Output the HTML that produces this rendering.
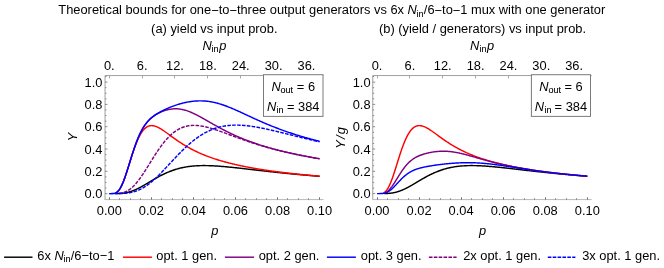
<!DOCTYPE html>
<html><head><meta charset="utf-8"><title>Theoretical bounds</title>
<style>html,body{margin:0;padding:0;background:#fff;}body{width:664px;height:268px;overflow:hidden;font-family:"Liberation Sans",sans-serif;}</style>
</head><body>
<svg width="664" height="268" viewBox="0 0 664 268" style="display:block;will-change:transform">
<rect width="664" height="268" fill="#fff"/>
<g font-family="'Liberation Sans', sans-serif" font-size="12.85" fill="#000">
<text x="331.8" y="14.45" text-anchor="middle">Theoretical bounds for one<tspan dy="0.5">−</tspan><tspan dy="-0.5">to</tspan><tspan dy="0.5">−</tspan><tspan dy="-0.5">three output generators vs 6x </tspan><tspan font-style="italic">N</tspan><tspan font-size="9.0" dx="-0.32" dy="2.3" stroke="#000" stroke-width="0.12">in</tspan><tspan dx="0.32" dy="-2.3">/6<tspan dy="0.5">−</tspan><tspan dy="-0.5">to</tspan><tspan dy="0.5">−</tspan><tspan dy="-0.5">1 mux with one generator</tspan></tspan></text>
<text x="214.3" y="33.4" text-anchor="middle">(a) yield vs input prob.</text>
<text x="482.5" y="33.4" text-anchor="middle">(b) (yield / generators) vs input prob.</text>
<clipPath id="c0"><rect x="105.05" y="75.55" width="218.45" height="124.05"/></clipPath>
<g clip-path="url(#c0)"><path d="M114.87,193.59 L115.14,193.59 L115.40,193.59 L115.67,193.58 L115.93,193.58 L116.20,193.58 L116.46,193.57 L116.72,193.57 L116.99,193.56 L117.25,193.55 L117.52,193.55 L117.78,193.54 L118.05,193.53 L118.31,193.52 L118.57,193.51 L118.84,193.50 L119.10,193.49 L119.37,193.48 L119.63,193.46 L119.90,193.45 L120.16,193.43 L120.43,193.41 L120.69,193.39 L120.95,193.37 L121.22,193.35 L121.48,193.33 L121.75,193.31 L122.01,193.28 L122.28,193.25 L122.54,193.23 L122.81,193.20 L123.07,193.16 L123.33,193.13 L123.60,193.10 L123.86,193.06 L124.13,193.02 L124.39,192.98 L124.66,192.94 L124.92,192.90 L125.18,192.86 L125.45,192.81 L125.71,192.76 L125.98,192.71 L126.24,192.66 L126.51,192.60 L126.77,192.55 L127.04,192.49 L127.30,192.43 L127.56,192.37 L127.83,192.31 L128.09,192.24 L128.36,192.17 L128.62,192.11 L128.89,192.04 L129.15,191.96 L129.42,191.89 L129.68,191.81 L129.94,191.73 L130.21,191.65 L130.47,191.57 L130.74,191.48 L131.00,191.40 L131.27,191.31 L131.53,191.22 L131.79,191.13 L132.06,191.04 L132.32,190.94 L132.59,190.84 L132.85,190.74 L133.12,190.64 L133.38,190.54 L133.65,190.44 L133.91,190.33 L134.17,190.22 L134.44,190.11 L134.70,190.00 L134.97,189.89 L135.23,189.77 L135.50,189.66 L135.76,189.54 L136.03,189.42 L136.29,189.30 L136.55,189.18 L136.82,189.05 L137.08,188.93 L137.35,188.80 L137.61,188.67 L137.88,188.55 L138.14,188.41 L138.40,188.28 L138.67,188.15 L138.93,188.02 L139.20,187.88 L139.46,187.74 L139.73,187.61 L139.99,187.47 L140.26,187.33 L140.52,187.19 L140.78,187.04 L141.05,186.90 L141.31,186.76 L141.58,186.61 L141.84,186.47 L142.11,186.32 L142.37,186.17 L142.63,186.02 L142.90,185.87 L143.16,185.72 L143.43,185.57 L143.69,185.42 L143.96,185.27 L144.22,185.12 L144.49,184.97 L144.75,184.81 L145.01,184.66 L145.28,184.50 L145.54,184.35 L145.81,184.19 L146.07,184.04 L146.34,183.88 L146.60,183.73 L146.87,183.57 L147.13,183.41 L147.39,183.26 L147.66,183.10 L147.92,182.94 L148.19,182.78 L148.45,182.63 L148.72,182.47 L148.98,182.31 L149.24,182.15 L149.51,181.99 L149.77,181.84 L150.04,181.68 L150.30,181.52 L150.57,181.36 L150.83,181.21 L151.10,181.05 L151.36,180.89 L152.06,180.48 L152.77,180.06 L153.47,179.65 L154.18,179.24 L154.88,178.83 L155.58,178.43 L156.29,178.03 L156.99,177.63 L157.70,177.24 L158.40,176.86 L159.10,176.48 L159.81,176.10 L160.51,175.73 L161.22,175.37 L161.92,175.01 L162.62,174.66 L163.33,174.31 L164.03,173.98 L164.73,173.64 L165.44,173.32 L166.14,173.00 L166.85,172.69 L167.55,172.38 L168.25,172.09 L168.96,171.80 L169.66,171.52 L170.37,171.24 L171.07,170.97 L171.77,170.71 L172.48,170.46 L173.18,170.21 L173.89,169.97 L174.59,169.74 L175.29,169.52 L176.00,169.30 L176.70,169.09 L177.41,168.89 L178.11,168.69 L178.81,168.51 L179.52,168.32 L180.22,168.15 L180.93,167.98 L181.63,167.82 L182.33,167.67 L183.04,167.52 L183.74,167.38 L184.44,167.24 L185.15,167.11 L185.85,166.99 L186.56,166.87 L187.26,166.76 L187.96,166.65 L188.67,166.55 L189.37,166.46 L190.08,166.37 L190.78,166.29 L191.48,166.21 L192.19,166.14 L192.89,166.07 L193.60,166.01 L194.30,165.95 L195.00,165.90 L195.71,165.85 L196.41,165.80 L197.12,165.76 L197.82,165.73 L198.52,165.70 L199.23,165.67 L199.93,165.65 L200.64,165.63 L201.34,165.61 L202.04,165.60 L202.75,165.59 L203.45,165.59 L204.15,165.59 L204.86,165.59 L205.56,165.60 L206.27,165.60 L206.97,165.62 L207.67,165.63 L208.38,165.65 L209.08,165.67 L209.79,165.69 L210.49,165.71 L211.19,165.74 L211.90,165.77 L212.60,165.81 L213.31,165.84 L214.01,165.88 L214.71,165.92 L215.42,165.96 L216.12,166.00 L216.83,166.05 L217.53,166.09 L218.23,166.14 L218.94,166.19 L219.64,166.24 L220.35,166.30 L221.05,166.35 L221.75,166.41 L222.46,166.47 L223.16,166.53 L223.87,166.59 L224.57,166.65 L225.27,166.71 L225.98,166.77 L226.68,166.84 L227.38,166.91 L228.09,166.97 L228.79,167.04 L229.50,167.11 L230.20,167.18 L230.90,167.25 L231.61,167.32 L232.31,167.40 L233.02,167.47 L233.72,167.54 L234.42,167.62 L235.13,167.69 L235.83,167.77 L236.54,167.84 L237.24,167.92 L237.94,168.00 L238.65,168.08 L239.35,168.15 L240.06,168.23 L240.76,168.31 L241.46,168.39 L242.17,168.47 L242.87,168.55 L243.58,168.63 L244.28,168.71 L244.98,168.79 L245.69,168.87 L246.39,168.95 L247.09,169.03 L247.80,169.11 L248.50,169.19 L249.21,169.27 L249.91,169.35 L250.61,169.43 L251.32,169.52 L252.02,169.60 L252.73,169.68 L253.43,169.76 L254.13,169.84 L254.84,169.92 L255.54,170.00 L256.25,170.08 L256.95,170.16 L257.65,170.24 L258.36,170.32 L259.06,170.41 L259.77,170.49 L260.47,170.57 L261.17,170.65 L261.88,170.73 L262.58,170.81 L263.29,170.88 L263.99,170.96 L264.69,171.04 L265.40,171.12 L266.10,171.20 L266.81,171.28 L267.51,171.36 L268.21,171.44 L268.92,171.51 L269.62,171.59 L270.32,171.67 L271.03,171.75 L271.73,171.82 L272.44,171.90 L273.14,171.97 L273.84,172.05 L274.55,172.13 L275.25,172.20 L275.96,172.28 L276.66,172.35 L277.36,172.43 L278.07,172.50 L278.77,172.57 L279.48,172.65 L280.18,172.72 L280.88,172.79 L281.59,172.87 L282.29,172.94 L283.00,173.01 L283.70,173.08 L284.40,173.15 L285.11,173.22 L285.81,173.29 L286.52,173.37 L287.22,173.44 L287.92,173.50 L288.63,173.57 L289.33,173.64 L290.03,173.71 L290.74,173.78 L291.44,173.85 L292.15,173.92 L292.85,173.98 L293.55,174.05 L294.26,174.12 L294.96,174.18 L295.67,174.25 L296.37,174.32 L297.07,174.38 L297.78,174.45 L298.48,174.51 L299.19,174.57 L299.89,174.64 L300.59,174.70 L301.30,174.77 L302.00,174.83 L302.71,174.89 L303.41,174.95 L304.11,175.02 L304.82,175.08 L305.52,175.14 L306.23,175.20 L306.93,175.26 L307.63,175.32 L308.34,175.38 L309.04,175.44 L309.74,175.50 L310.45,175.56 L311.15,175.62 L311.86,175.68 L312.56,175.74 L313.26,175.79 L313.97,175.85 L314.67,175.91 L315.38,175.97 L316.08,176.02 L316.78,176.08 L317.49,176.13 L318.19,176.19 L318.90,176.25 L319.60,176.30" fill="none" stroke="#000000" stroke-width="1.45" stroke-linejoin="round"/><path d="M116.46,192.45 L116.72,192.28 L116.99,192.09 L117.25,191.88 L117.52,191.65 L117.78,191.41 L118.05,191.14 L118.31,190.86 L118.57,190.56 L118.84,190.23 L119.10,189.89 L119.37,189.52 L119.63,189.14 L119.90,188.73 L120.16,188.31 L120.43,187.86 L120.69,187.39 L120.95,186.90 L121.22,186.40 L121.48,185.87 L121.75,185.32 L122.01,184.76 L122.28,184.17 L122.54,183.57 L122.81,182.95 L123.07,182.31 L123.33,181.66 L123.60,180.98 L123.86,180.30 L124.13,179.60 L124.39,178.88 L124.66,178.15 L124.92,177.41 L125.18,176.65 L125.45,175.89 L125.71,175.11 L125.98,174.32 L126.24,173.53 L126.51,172.72 L126.77,171.91 L127.04,171.09 L127.30,170.26 L127.56,169.43 L127.83,168.60 L128.09,167.75 L128.36,166.91 L128.62,166.06 L128.89,165.22 L129.15,164.37 L129.42,163.52 L129.68,162.67 L129.94,161.82 L130.21,160.97 L130.47,160.13 L130.74,159.29 L131.00,158.45 L131.27,157.61 L131.53,156.78 L131.79,155.96 L132.06,155.14 L132.32,154.33 L132.59,153.52 L132.85,152.72 L133.12,151.93 L133.38,151.15 L133.65,150.38 L133.91,149.61 L134.17,148.86 L134.44,148.11 L134.70,147.37 L134.97,146.65 L135.23,145.93 L135.50,145.23 L135.76,144.54 L136.03,143.86 L136.29,143.19 L136.55,142.53 L136.82,141.89 L137.08,141.26 L137.35,140.64 L137.61,140.03 L137.88,139.43 L138.14,138.85 L138.40,138.29 L138.67,137.73 L138.93,137.19 L139.20,136.66 L139.46,136.15 L139.73,135.64 L139.99,135.15 L140.26,134.68 L140.52,134.22 L140.78,133.77 L141.05,133.34 L141.31,132.91 L141.58,132.50 L141.84,132.11 L142.11,131.73 L142.37,131.36 L142.63,131.00 L142.90,130.66 L143.16,130.33 L143.43,130.01 L143.69,129.70 L143.96,129.41 L144.22,129.13 L144.49,128.86 L144.75,128.61 L145.01,128.36 L145.28,128.13 L145.54,127.91 L145.81,127.70 L146.07,127.50 L146.34,127.31 L146.60,127.13 L146.87,126.97 L147.13,126.81 L147.39,126.67 L147.66,126.53 L147.92,126.41 L148.19,126.29 L148.45,126.19 L148.72,126.09 L148.98,126.00 L149.24,125.93 L149.51,125.86 L149.77,125.80 L150.04,125.75 L150.30,125.71 L150.57,125.67 L150.83,125.65 L151.10,125.63 L151.36,125.62 L152.06,125.62 L152.77,125.68 L153.47,125.78 L154.18,125.93 L154.88,126.12 L155.58,126.34 L156.29,126.60 L156.99,126.89 L157.70,127.21 L158.40,127.56 L159.10,127.93 L159.81,128.32 L160.51,128.73 L161.22,129.15 L161.92,129.60 L162.62,130.05 L163.33,130.52 L164.03,131.00 L164.73,131.49 L165.44,131.98 L166.14,132.48 L166.85,132.99 L167.55,133.50 L168.25,134.01 L168.96,134.52 L169.66,135.03 L170.37,135.55 L171.07,136.06 L171.77,136.58 L172.48,137.09 L173.18,137.60 L173.89,138.10 L174.59,138.60 L175.29,139.10 L176.00,139.60 L176.70,140.09 L177.41,140.57 L178.11,141.05 L178.81,141.53 L179.52,142.00 L180.22,142.46 L180.93,142.92 L181.63,143.38 L182.33,143.83 L183.04,144.27 L183.74,144.70 L184.44,145.14 L185.15,145.56 L185.85,145.98 L186.56,146.39 L187.26,146.80 L187.96,147.20 L188.67,147.60 L189.37,147.99 L190.08,148.37 L190.78,148.75 L191.48,149.13 L192.19,149.50 L192.89,149.86 L193.60,150.22 L194.30,150.57 L195.00,150.91 L195.71,151.26 L196.41,151.59 L197.12,151.93 L197.82,152.25 L198.52,152.58 L199.23,152.89 L199.93,153.21 L200.64,153.51 L201.34,153.82 L202.04,154.12 L202.75,154.41 L203.45,154.70 L204.15,154.99 L204.86,155.27 L205.56,155.55 L206.27,155.83 L206.97,156.10 L207.67,156.37 L208.38,156.63 L209.08,156.89 L209.79,157.15 L210.49,157.40 L211.19,157.65 L211.90,157.89 L212.60,158.14 L213.31,158.38 L214.01,158.61 L214.71,158.85 L215.42,159.08 L216.12,159.30 L216.83,159.53 L217.53,159.75 L218.23,159.97 L218.94,160.18 L219.64,160.40 L220.35,160.61 L221.05,160.82 L221.75,161.02 L222.46,161.22 L223.16,161.42 L223.87,161.62 L224.57,161.82 L225.27,162.01 L225.98,162.20 L226.68,162.39 L227.38,162.57 L228.09,162.76 L228.79,162.94 L229.50,163.12 L230.20,163.30 L230.90,163.47 L231.61,163.64 L232.31,163.82 L233.02,163.99 L233.72,164.15 L234.42,164.32 L235.13,164.48 L235.83,164.64 L236.54,164.80 L237.24,164.96 L237.94,165.12 L238.65,165.27 L239.35,165.43 L240.06,165.58 L240.76,165.73 L241.46,165.88 L242.17,166.03 L242.87,166.17 L243.58,166.31 L244.28,166.46 L244.98,166.60 L245.69,166.74 L246.39,166.87 L247.09,167.01 L247.80,167.15 L248.50,167.28 L249.21,167.41 L249.91,167.54 L250.61,167.67 L251.32,167.80 L252.02,167.93 L252.73,168.06 L253.43,168.18 L254.13,168.30 L254.84,168.43 L255.54,168.55 L256.25,168.67 L256.95,168.79 L257.65,168.90 L258.36,169.02 L259.06,169.14 L259.77,169.25 L260.47,169.36 L261.17,169.48 L261.88,169.59 L262.58,169.70 L263.29,169.81 L263.99,169.91 L264.69,170.02 L265.40,170.13 L266.10,170.23 L266.81,170.34 L267.51,170.44 L268.21,170.54 L268.92,170.65 L269.62,170.75 L270.32,170.85 L271.03,170.95 L271.73,171.04 L272.44,171.14 L273.14,171.24 L273.84,171.33 L274.55,171.43 L275.25,171.52 L275.96,171.62 L276.66,171.71 L277.36,171.80 L278.07,171.89 L278.77,171.98 L279.48,172.07 L280.18,172.16 L280.88,172.25 L281.59,172.33 L282.29,172.42 L283.00,172.51 L283.70,172.59 L284.40,172.68 L285.11,172.76 L285.81,172.84 L286.52,172.93 L287.22,173.01 L287.92,173.09 L288.63,173.17 L289.33,173.25 L290.03,173.33 L290.74,173.41 L291.44,173.48 L292.15,173.56 L292.85,173.64 L293.55,173.72 L294.26,173.79 L294.96,173.87 L295.67,173.94 L296.37,174.01 L297.07,174.09 L297.78,174.16 L298.48,174.23 L299.19,174.31 L299.89,174.38 L300.59,174.45 L301.30,174.52 L302.00,174.59 L302.71,174.66 L303.41,174.72 L304.11,174.79 L304.82,174.86 L305.52,174.93 L306.23,174.99 L306.93,175.06 L307.63,175.13 L308.34,175.19 L309.04,175.26 L309.74,175.32 L310.45,175.39 L311.15,175.45 L311.86,175.51 L312.56,175.57 L313.26,175.64 L313.97,175.70 L314.67,175.76 L315.38,175.82 L316.08,175.88 L316.78,175.94 L317.49,176.00 L318.19,176.06 L318.90,176.12 L319.60,176.18" fill="none" stroke="#ff0000" stroke-width="1.45" stroke-linejoin="round"/><path d="M116.46,192.45 L116.72,192.28 L116.99,192.09 L117.25,191.88 L117.52,191.65 L117.78,191.41 L118.05,191.14 L118.31,190.86 L118.57,190.56 L118.84,190.23 L119.10,189.89 L119.37,189.52 L119.63,189.14 L119.90,188.73 L120.16,188.31 L120.43,187.86 L120.69,187.39 L120.95,186.90 L121.22,186.40 L121.48,185.87 L121.75,185.32 L122.01,184.76 L122.28,184.17 L122.54,183.57 L122.81,182.95 L123.07,182.31 L123.33,181.65 L123.60,180.98 L123.86,180.29 L124.13,179.59 L124.39,178.87 L124.66,178.14 L124.92,177.40 L125.18,176.64 L125.45,175.87 L125.71,175.10 L125.98,174.31 L126.24,173.51 L126.51,172.70 L126.77,171.89 L127.04,171.06 L127.30,170.23 L127.56,169.40 L127.83,168.56 L128.09,167.71 L128.36,166.86 L128.62,166.01 L128.89,165.16 L129.15,164.30 L129.42,163.44 L129.68,162.59 L129.94,161.73 L130.21,160.87 L130.47,160.02 L130.74,159.17 L131.00,158.32 L131.27,157.47 L131.53,156.62 L131.79,155.79 L132.06,154.95 L132.32,154.12 L132.59,153.30 L132.85,152.48 L133.12,151.67 L133.38,150.87 L133.65,150.07 L133.91,149.28 L134.17,148.50 L134.44,147.73 L134.70,146.96 L134.97,146.21 L135.23,145.46 L135.50,144.72 L135.76,143.99 L136.03,143.27 L136.29,142.56 L136.55,141.87 L136.82,141.18 L137.08,140.50 L137.35,139.83 L137.61,139.17 L137.88,138.53 L138.14,137.89 L138.40,137.26 L138.67,136.65 L138.93,136.04 L139.20,135.45 L139.46,134.87 L139.73,134.29 L139.99,133.73 L140.26,133.18 L140.52,132.64 L140.78,132.11 L141.05,131.59 L141.31,131.08 L141.58,130.58 L141.84,130.09 L142.11,129.61 L142.37,129.13 L142.63,128.67 L142.90,128.22 L143.16,127.78 L143.43,127.35 L143.69,126.93 L143.96,126.51 L144.22,126.11 L144.49,125.71 L144.75,125.32 L145.01,124.94 L145.28,124.57 L145.54,124.21 L145.81,123.85 L146.07,123.51 L146.34,123.17 L146.60,122.84 L146.87,122.51 L147.13,122.19 L147.39,121.88 L147.66,121.58 L147.92,121.28 L148.19,120.99 L148.45,120.70 L148.72,120.42 L148.98,120.15 L149.24,119.89 L149.51,119.62 L149.77,119.37 L150.04,119.12 L150.30,118.87 L150.57,118.63 L150.83,118.40 L151.10,118.17 L151.36,117.94 L152.06,117.36 L152.77,116.82 L153.47,116.29 L154.18,115.80 L154.88,115.33 L155.58,114.88 L156.29,114.45 L156.99,114.04 L157.70,113.65 L158.40,113.28 L159.10,112.92 L159.81,112.58 L160.51,112.26 L161.22,111.95 L161.92,111.65 L162.62,111.37 L163.33,111.10 L164.03,110.85 L164.73,110.61 L165.44,110.39 L166.14,110.18 L166.85,109.98 L167.55,109.80 L168.25,109.63 L168.96,109.48 L169.66,109.34 L170.37,109.21 L171.07,109.11 L171.77,109.01 L172.48,108.94 L173.18,108.87 L173.89,108.83 L174.59,108.80 L175.29,108.79 L176.00,108.79 L176.70,108.81 L177.41,108.84 L178.11,108.89 L178.81,108.96 L179.52,109.04 L180.22,109.13 L180.93,109.25 L181.63,109.37 L182.33,109.51 L183.04,109.67 L183.74,109.84 L184.44,110.02 L185.15,110.22 L185.85,110.43 L186.56,110.65 L187.26,110.89 L187.96,111.13 L188.67,111.39 L189.37,111.66 L190.08,111.94 L190.78,112.23 L191.48,112.53 L192.19,112.84 L192.89,113.15 L193.60,113.48 L194.30,113.81 L195.00,114.15 L195.71,114.50 L196.41,114.85 L197.12,115.21 L197.82,115.58 L198.52,115.95 L199.23,116.32 L199.93,116.70 L200.64,117.09 L201.34,117.47 L202.04,117.86 L202.75,118.25 L203.45,118.65 L204.15,119.05 L204.86,119.44 L205.56,119.84 L206.27,120.25 L206.97,120.65 L207.67,121.05 L208.38,121.45 L209.08,121.86 L209.79,122.26 L210.49,122.66 L211.19,123.06 L211.90,123.46 L212.60,123.86 L213.31,124.26 L214.01,124.66 L214.71,125.06 L215.42,125.45 L216.12,125.84 L216.83,126.23 L217.53,126.62 L218.23,127.01 L218.94,127.39 L219.64,127.78 L220.35,128.15 L221.05,128.53 L221.75,128.91 L222.46,129.28 L223.16,129.65 L223.87,130.01 L224.57,130.38 L225.27,130.74 L225.98,131.09 L226.68,131.45 L227.38,131.80 L228.09,132.15 L228.79,132.49 L229.50,132.84 L230.20,133.18 L230.90,133.51 L231.61,133.85 L232.31,134.18 L233.02,134.51 L233.72,134.83 L234.42,135.15 L235.13,135.47 L235.83,135.79 L236.54,136.10 L237.24,136.41 L237.94,136.72 L238.65,137.02 L239.35,137.32 L240.06,137.62 L240.76,137.91 L241.46,138.21 L242.17,138.50 L242.87,138.78 L243.58,139.07 L244.28,139.35 L244.98,139.63 L245.69,139.90 L246.39,140.18 L247.09,140.45 L247.80,140.72 L248.50,140.98 L249.21,141.24 L249.91,141.51 L250.61,141.76 L251.32,142.02 L252.02,142.27 L252.73,142.52 L253.43,142.77 L254.13,143.02 L254.84,143.26 L255.54,143.50 L256.25,143.74 L256.95,143.98 L257.65,144.21 L258.36,144.45 L259.06,144.68 L259.77,144.91 L260.47,145.13 L261.17,145.36 L261.88,145.58 L262.58,145.80 L263.29,146.02 L263.99,146.23 L264.69,146.45 L265.40,146.66 L266.10,146.87 L266.81,147.08 L267.51,147.29 L268.21,147.49 L268.92,147.69 L269.62,147.90 L270.32,148.10 L271.03,148.29 L271.73,148.49 L272.44,148.68 L273.14,148.88 L273.84,149.07 L274.55,149.26 L275.25,149.45 L275.96,149.63 L276.66,149.82 L277.36,150.00 L278.07,150.18 L278.77,150.36 L279.48,150.54 L280.18,150.72 L280.88,150.89 L281.59,151.07 L282.29,151.24 L283.00,151.41 L283.70,151.58 L284.40,151.75 L285.11,151.92 L285.81,152.09 L286.52,152.25 L287.22,152.41 L287.92,152.58 L288.63,152.74 L289.33,152.90 L290.03,153.06 L290.74,153.21 L291.44,153.37 L292.15,153.52 L292.85,153.68 L293.55,153.83 L294.26,153.98 L294.96,154.13 L295.67,154.28 L296.37,154.43 L297.07,154.58 L297.78,154.72 L298.48,154.87 L299.19,155.01 L299.89,155.15 L300.59,155.29 L301.30,155.43 L302.00,155.57 L302.71,155.71 L303.41,155.85 L304.11,155.99 L304.82,156.12 L305.52,156.26 L306.23,156.39 L306.93,156.52 L307.63,156.65 L308.34,156.78 L309.04,156.91 L309.74,157.04 L310.45,157.17 L311.15,157.30 L311.86,157.42 L312.56,157.55 L313.26,157.67 L313.97,157.80 L314.67,157.92 L315.38,158.04 L316.08,158.16 L316.78,158.28 L317.49,158.40 L318.19,158.52 L318.90,158.64 L319.60,158.76" fill="none" stroke="#800080" stroke-width="1.45" stroke-linejoin="round"/><path d="M109.32,193.60 L109.59,193.60 L109.85,193.60 L110.11,193.60 L110.38,193.60 L110.64,193.60 L110.91,193.60 L111.17,193.60 L111.44,193.59 L111.70,193.59 L111.96,193.58 L112.23,193.58 L112.49,193.56 L112.76,193.55 L113.02,193.53 L113.29,193.50 L113.55,193.47 L113.82,193.43 L114.08,193.38 L114.34,193.33 L114.61,193.26 L114.87,193.18 L115.14,193.10 L115.40,193.00 L115.67,192.88 L115.93,192.75 L116.20,192.61 L116.46,192.45 L116.72,192.28 L116.99,192.09 L117.25,191.88 L117.52,191.65 L117.78,191.41 L118.05,191.14 L118.31,190.86 L118.57,190.56 L118.84,190.23 L119.10,189.89 L119.37,189.52 L119.63,189.14 L119.90,188.73 L120.16,188.31 L120.43,187.86 L120.69,187.39 L120.95,186.90 L121.22,186.40 L121.48,185.87 L121.75,185.32 L122.01,184.76 L122.28,184.17 L122.54,183.57 L122.81,182.95 L123.07,182.31 L123.33,181.65 L123.60,180.98 L123.86,180.29 L124.13,179.59 L124.39,178.87 L124.66,178.14 L124.92,177.40 L125.18,176.64 L125.45,175.87 L125.71,175.10 L125.98,174.31 L126.24,173.51 L126.51,172.70 L126.77,171.89 L127.04,171.06 L127.30,170.23 L127.56,169.40 L127.83,168.56 L128.09,167.71 L128.36,166.86 L128.62,166.01 L128.89,165.16 L129.15,164.30 L129.42,163.44 L129.68,162.59 L129.94,161.73 L130.21,160.87 L130.47,160.02 L130.74,159.17 L131.00,158.32 L131.27,157.47 L131.53,156.62 L131.79,155.79 L132.06,154.95 L132.32,154.12 L132.59,153.30 L132.85,152.48 L133.12,151.67 L133.38,150.87 L133.65,150.07 L133.91,149.28 L134.17,148.50 L134.44,147.73 L134.70,146.96 L134.97,146.20 L135.23,145.46 L135.50,144.72 L135.76,143.99 L136.03,143.27 L136.29,142.56 L136.55,141.87 L136.82,141.18 L137.08,140.50 L137.35,139.83 L137.61,139.17 L137.88,138.53 L138.14,137.89 L138.40,137.26 L138.67,136.65 L138.93,136.04 L139.20,135.45 L139.46,134.86 L139.73,134.29 L139.99,133.73 L140.26,133.18 L140.52,132.63 L140.78,132.10 L141.05,131.58 L141.31,131.07 L141.58,130.57 L141.84,130.08 L142.11,129.60 L142.37,129.13 L142.63,128.67 L142.90,128.22 L143.16,127.77 L143.43,127.34 L143.69,126.92 L143.96,126.50 L144.22,126.10 L144.49,125.70 L144.75,125.31 L145.01,124.93 L145.28,124.56 L145.54,124.19 L145.81,123.84 L146.07,123.49 L146.34,123.15 L146.60,122.81 L146.87,122.49 L147.13,122.17 L147.39,121.85 L147.66,121.55 L147.92,121.25 L148.19,120.95 L148.45,120.67 L148.72,120.38 L148.98,120.11 L149.24,119.84 L149.51,119.57 L149.77,119.32 L150.04,119.06 L150.30,118.81 L150.57,118.57 L150.83,118.33 L151.10,118.09 L151.36,117.86 L152.06,117.27 L152.77,116.71 L153.47,116.17 L154.18,115.65 L154.88,115.16 L155.58,114.68 L156.29,114.22 L156.99,113.78 L157.70,113.35 L158.40,112.94 L159.10,112.53 L159.81,112.14 L160.51,111.76 L161.22,111.39 L161.92,111.02 L162.62,110.67 L163.33,110.32 L164.03,109.98 L164.73,109.64 L165.44,109.32 L166.14,108.99 L166.85,108.68 L167.55,108.37 L168.25,108.07 L168.96,107.77 L169.66,107.48 L170.37,107.19 L171.07,106.91 L171.77,106.64 L172.48,106.37 L173.18,106.11 L173.89,105.85 L174.59,105.60 L175.29,105.35 L176.00,105.11 L176.70,104.88 L177.41,104.66 L178.11,104.43 L178.81,104.22 L179.52,104.01 L180.22,103.81 L180.93,103.61 L181.63,103.43 L182.33,103.24 L183.04,103.07 L183.74,102.90 L184.44,102.73 L185.15,102.58 L185.85,102.42 L186.56,102.28 L187.26,102.14 L187.96,102.01 L188.67,101.89 L189.37,101.77 L190.08,101.66 L190.78,101.56 L191.48,101.46 L192.19,101.37 L192.89,101.29 L193.60,101.21 L194.30,101.14 L195.00,101.08 L195.71,101.03 L196.41,100.98 L197.12,100.95 L197.82,100.92 L198.52,100.89 L199.23,100.88 L199.93,100.87 L200.64,100.87 L201.34,100.88 L202.04,100.89 L202.75,100.92 L203.45,100.95 L204.15,100.99 L204.86,101.04 L205.56,101.09 L206.27,101.16 L206.97,101.23 L207.67,101.31 L208.38,101.40 L209.08,101.49 L209.79,101.60 L210.49,101.71 L211.19,101.83 L211.90,101.96 L212.60,102.09 L213.31,102.24 L214.01,102.39 L214.71,102.55 L215.42,102.71 L216.12,102.89 L216.83,103.07 L217.53,103.25 L218.23,103.45 L218.94,103.65 L219.64,103.85 L220.35,104.07 L221.05,104.29 L221.75,104.51 L222.46,104.75 L223.16,104.99 L223.87,105.23 L224.57,105.48 L225.27,105.73 L225.98,105.99 L226.68,106.26 L227.38,106.52 L228.09,106.80 L228.79,107.08 L229.50,107.36 L230.20,107.64 L230.90,107.93 L231.61,108.23 L232.31,108.52 L233.02,108.82 L233.72,109.13 L234.42,109.43 L235.13,109.74 L235.83,110.05 L236.54,110.36 L237.24,110.68 L237.94,110.99 L238.65,111.31 L239.35,111.63 L240.06,111.96 L240.76,112.28 L241.46,112.60 L242.17,112.93 L242.87,113.25 L243.58,113.58 L244.28,113.91 L244.98,114.23 L245.69,114.56 L246.39,114.89 L247.09,115.22 L247.80,115.55 L248.50,115.87 L249.21,116.20 L249.91,116.53 L250.61,116.86 L251.32,117.18 L252.02,117.51 L252.73,117.83 L253.43,118.15 L254.13,118.48 L254.84,118.80 L255.54,119.12 L256.25,119.44 L256.95,119.76 L257.65,120.07 L258.36,120.39 L259.06,120.70 L259.77,121.02 L260.47,121.33 L261.17,121.64 L261.88,121.95 L262.58,122.25 L263.29,122.56 L263.99,122.86 L264.69,123.16 L265.40,123.46 L266.10,123.76 L266.81,124.06 L267.51,124.35 L268.21,124.65 L268.92,124.94 L269.62,125.23 L270.32,125.51 L271.03,125.80 L271.73,126.08 L272.44,126.37 L273.14,126.65 L273.84,126.92 L274.55,127.20 L275.25,127.47 L275.96,127.75 L276.66,128.02 L277.36,128.29 L278.07,128.55 L278.77,128.82 L279.48,129.08 L280.18,129.34 L280.88,129.60 L281.59,129.86 L282.29,130.12 L283.00,130.37 L283.70,130.62 L284.40,130.87 L285.11,131.12 L285.81,131.37 L286.52,131.61 L287.22,131.85 L287.92,132.09 L288.63,132.33 L289.33,132.57 L290.03,132.81 L290.74,133.04 L291.44,133.27 L292.15,133.51 L292.85,133.73 L293.55,133.96 L294.26,134.19 L294.96,134.41 L295.67,134.63 L296.37,134.86 L297.07,135.08 L297.78,135.29 L298.48,135.51 L299.19,135.72 L299.89,135.94 L300.59,136.15 L301.30,136.36 L302.00,136.57 L302.71,136.77 L303.41,136.98 L304.11,137.18 L304.82,137.39 L305.52,137.59 L306.23,137.79 L306.93,137.99 L307.63,138.18 L308.34,138.38 L309.04,138.57 L309.74,138.77 L310.45,138.96 L311.15,139.15 L311.86,139.34 L312.56,139.53 L313.26,139.71 L313.97,139.90 L314.67,140.08 L315.38,140.26 L316.08,140.45 L316.78,140.63 L317.49,140.81 L318.19,140.98 L318.90,141.16 L319.60,141.34" fill="none" stroke="#0000ff" stroke-width="1.45" stroke-linejoin="round"/><path d="M119.37,193.34 L119.63,193.31 L119.90,193.27 L120.16,193.24 L120.43,193.20 L120.69,193.16 L120.95,193.11 L121.22,193.07 L121.48,193.02 L121.75,192.96 L122.01,192.90 L122.28,192.84 L122.54,192.78 L122.81,192.71 L123.07,192.64 L123.33,192.57 L123.60,192.49 L123.86,192.40 L124.13,192.32 L124.39,192.23 L124.66,192.13 L124.92,192.03 L125.18,191.93 L125.45,191.82 L125.71,191.71 L125.98,191.59 L126.24,191.46 L126.51,191.34 L126.77,191.21 L127.04,191.07 L127.30,190.93 L127.56,190.78 L127.83,190.63 L128.09,190.47 L128.36,190.31 L128.62,190.14 L128.89,189.97 L129.15,189.80 L129.42,189.61 L129.68,189.43 L129.94,189.24 L130.21,189.04 L130.47,188.84 L130.74,188.63 L131.00,188.42 L131.27,188.20 L131.53,187.98 L131.79,187.75 L132.06,187.51 L132.32,187.28 L132.59,187.03 L132.85,186.78 L133.12,186.53 L133.38,186.27 L133.65,186.01 L133.91,185.74 L134.17,185.47 L134.44,185.19 L134.70,184.91 L134.97,184.62 L135.23,184.33 L135.50,184.03 L135.76,183.73 L136.03,183.43 L136.29,183.12 L136.55,182.80 L136.82,182.48 L137.08,182.16 L137.35,181.83 L137.61,181.50 L137.88,181.17 L138.14,180.83 L138.40,180.48 L138.67,180.14 L138.93,179.79 L139.20,179.43 L139.46,179.08 L139.73,178.71 L139.99,178.35 L140.26,177.98 L140.52,177.61 L140.78,177.24 L141.05,176.86 L141.31,176.48 L141.58,176.09 L141.84,175.71 L142.11,175.32 L142.37,174.93 L142.63,174.53 L142.90,174.14 L143.16,173.74 L143.43,173.34 L143.69,172.94 L143.96,172.53 L144.22,172.12 L144.49,171.71 L144.75,171.30 L145.01,170.89 L145.28,170.48 L145.54,170.06 L145.81,169.65 L146.07,169.23 L146.34,168.81 L146.60,168.39 L146.87,167.97 L147.13,167.54 L147.39,167.12 L147.66,166.70 L147.92,166.27 L148.19,165.85 L148.45,165.42 L148.72,165.00 L148.98,164.57 L149.24,164.15 L149.51,163.72 L149.77,163.29 L150.04,162.87 L150.30,162.44 L150.57,162.01 L150.83,161.59 L151.10,161.16 L151.36,160.74 L152.06,159.61 L152.77,158.49 L153.47,157.37 L154.18,156.26 L154.88,155.17 L155.58,154.08 L156.29,153.01 L156.99,151.94 L157.70,150.90 L158.40,149.86 L159.10,148.85 L159.81,147.85 L160.51,146.87 L161.22,145.91 L161.92,144.96 L162.62,144.04 L163.33,143.14 L164.03,142.26 L164.73,141.40 L165.44,140.57 L166.14,139.75 L166.85,138.96 L167.55,138.19 L168.25,137.45 L168.96,136.73 L169.66,136.03 L170.37,135.36 L171.07,134.71 L171.77,134.08 L172.48,133.48 L173.18,132.90 L173.89,132.35 L174.59,131.82 L175.29,131.31 L176.00,130.83 L176.70,130.37 L177.41,129.93 L178.11,129.52 L178.81,129.12 L179.52,128.75 L180.22,128.40 L180.93,128.07 L181.63,127.77 L182.33,127.48 L183.04,127.21 L183.74,126.97 L184.44,126.74 L185.15,126.53 L185.85,126.34 L186.56,126.17 L187.26,126.02 L187.96,125.88 L188.67,125.76 L189.37,125.66 L190.08,125.58 L190.78,125.50 L191.48,125.45 L192.19,125.41 L192.89,125.38 L193.60,125.37 L194.30,125.37 L195.00,125.38 L195.71,125.41 L196.41,125.44 L197.12,125.49 L197.82,125.56 L198.52,125.63 L199.23,125.71 L199.93,125.80 L200.64,125.91 L201.34,126.02 L202.04,126.14 L202.75,126.27 L203.45,126.40 L204.15,126.55 L204.86,126.70 L205.56,126.86 L206.27,127.03 L206.97,127.20 L207.67,127.39 L208.38,127.57 L209.08,127.76 L209.79,127.96 L210.49,128.16 L211.19,128.37 L211.90,128.58 L212.60,128.80 L213.31,129.02 L214.01,129.24 L214.71,129.47 L215.42,129.70 L216.12,129.93 L216.83,130.17 L217.53,130.41 L218.23,130.65 L218.94,130.89 L219.64,131.14 L220.35,131.39 L221.05,131.64 L221.75,131.89 L222.46,132.14 L223.16,132.40 L223.87,132.65 L224.57,132.91 L225.27,133.17 L225.98,133.43 L226.68,133.69 L227.38,133.94 L228.09,134.20 L228.79,134.46 L229.50,134.72 L230.20,134.99 L230.90,135.25 L231.61,135.51 L232.31,135.77 L233.02,136.02 L233.72,136.28 L234.42,136.54 L235.13,136.80 L235.83,137.06 L236.54,137.32 L237.24,137.57 L237.94,137.83 L238.65,138.08 L239.35,138.34 L240.06,138.59 L240.76,138.84 L241.46,139.09 L242.17,139.34 L242.87,139.59 L243.58,139.84 L244.28,140.08 L244.98,140.33 L245.69,140.57 L246.39,140.81 L247.09,141.06 L247.80,141.30 L248.50,141.53 L249.21,141.77 L249.91,142.01 L250.61,142.24 L251.32,142.47 L252.02,142.71 L252.73,142.94 L253.43,143.17 L254.13,143.39 L254.84,143.62 L255.54,143.84 L256.25,144.07 L256.95,144.29 L257.65,144.51 L258.36,144.73 L259.06,144.94 L259.77,145.16 L260.47,145.37 L261.17,145.58 L261.88,145.80 L262.58,146.00 L263.29,146.21 L263.99,146.42 L264.69,146.62 L265.40,146.83 L266.10,147.03 L266.81,147.23 L267.51,147.43 L268.21,147.63 L268.92,147.82 L269.62,148.02 L270.32,148.21 L271.03,148.40 L271.73,148.60 L272.44,148.78 L273.14,148.97 L273.84,149.16 L274.55,149.34 L275.25,149.53 L275.96,149.71 L276.66,149.89 L277.36,150.07 L278.07,150.25 L278.77,150.43 L279.48,150.60 L280.18,150.78 L280.88,150.95 L281.59,151.12 L282.29,151.29 L283.00,151.46 L283.70,151.63 L284.40,151.79 L285.11,151.96 L285.81,152.12 L286.52,152.29 L287.22,152.45 L287.92,152.61 L288.63,152.77 L289.33,152.93 L290.03,153.08 L290.74,153.24 L291.44,153.39 L292.15,153.55 L292.85,153.70 L293.55,153.85 L294.26,154.00 L294.96,154.15 L295.67,154.30 L296.37,154.45 L297.07,154.59 L297.78,154.74 L298.48,154.88 L299.19,155.02 L299.89,155.17 L300.59,155.31 L301.30,155.45 L302.00,155.58 L302.71,155.72 L303.41,155.86 L304.11,156.00 L304.82,156.13 L305.52,156.26 L306.23,156.40 L306.93,156.53 L307.63,156.66 L308.34,156.79 L309.04,156.92 L309.74,157.05 L310.45,157.18 L311.15,157.30 L311.86,157.43 L312.56,157.55 L313.26,157.68 L313.97,157.80 L314.67,157.92 L315.38,158.05 L316.08,158.17 L316.78,158.29 L317.49,158.41 L318.19,158.52 L318.90,158.64 L319.60,158.76" fill="none" stroke="#800080" stroke-width="1.45" stroke-linejoin="round" stroke-dasharray="3.6,1.28" stroke-dashoffset="0.30"/><path d="M109.32,193.60 L109.59,193.60 L109.85,193.60 L110.11,193.60 L110.38,193.60 L110.64,193.60 L110.91,193.60 L111.17,193.60 L111.44,193.60 L111.70,193.60 L111.96,193.60 L112.23,193.60 L112.49,193.60 L112.76,193.60 L113.02,193.60 L113.29,193.60 L113.55,193.60 L113.82,193.60 L114.08,193.60 L114.34,193.60 L114.61,193.60 L114.87,193.60 L115.14,193.60 L115.40,193.60 L115.67,193.59 L115.93,193.59 L116.20,193.59 L116.46,193.59 L116.72,193.59 L116.99,193.59 L117.25,193.59 L117.52,193.58 L117.78,193.58 L118.05,193.58 L118.31,193.57 L118.57,193.57 L118.84,193.57 L119.10,193.56 L119.37,193.56 L119.63,193.55 L119.90,193.55 L120.16,193.54 L120.43,193.53 L120.69,193.52 L120.95,193.52 L121.22,193.51 L121.48,193.50 L121.75,193.49 L122.01,193.48 L122.28,193.47 L122.54,193.45 L122.81,193.44 L123.07,193.43 L123.33,193.41 L123.60,193.40 L123.86,193.38 L124.13,193.36 L124.39,193.34 L124.66,193.32 L124.92,193.30 L125.18,193.28 L125.45,193.26 L125.71,193.24 L125.98,193.21 L126.24,193.18 L126.51,193.16 L126.77,193.13 L127.04,193.10 L127.30,193.06 L127.56,193.03 L127.83,193.00 L128.09,192.96 L128.36,192.92 L128.62,192.89 L128.89,192.84 L129.15,192.80 L129.42,192.76 L129.68,192.71 L129.94,192.67 L130.21,192.62 L130.47,192.57 L130.74,192.52 L131.00,192.46 L131.27,192.41 L131.53,192.35 L131.79,192.29 L132.06,192.23 L132.32,192.17 L132.59,192.10 L132.85,192.04 L133.12,191.97 L133.38,191.90 L133.65,191.82 L133.91,191.75 L134.17,191.67 L134.44,191.60 L134.70,191.51 L134.97,191.43 L135.23,191.35 L135.50,191.26 L135.76,191.17 L136.03,191.08 L136.29,190.99 L136.55,190.89 L136.82,190.79 L137.08,190.69 L137.35,190.59 L137.61,190.49 L137.88,190.38 L138.14,190.27 L138.40,190.16 L138.67,190.05 L138.93,189.93 L139.20,189.82 L139.46,189.70 L139.73,189.57 L139.99,189.45 L140.26,189.32 L140.52,189.19 L140.78,189.06 L141.05,188.93 L141.31,188.79 L141.58,188.65 L141.84,188.51 L142.11,188.37 L142.37,188.23 L142.63,188.08 L142.90,187.93 L143.16,187.78 L143.43,187.62 L143.69,187.47 L143.96,187.31 L144.22,187.15 L144.49,186.98 L144.75,186.82 L145.01,186.65 L145.28,186.48 L145.54,186.31 L145.81,186.14 L146.07,185.96 L146.34,185.78 L146.60,185.60 L146.87,185.42 L147.13,185.23 L147.39,185.05 L147.66,184.86 L147.92,184.67 L148.19,184.47 L148.45,184.28 L148.72,184.08 L148.98,183.88 L149.24,183.68 L149.51,183.47 L149.77,183.27 L150.04,183.06 L150.30,182.85 L150.57,182.64 L150.83,182.43 L151.10,182.21 L151.36,181.99 L152.06,181.41 L152.77,180.81 L153.47,180.20 L154.18,179.57 L154.88,178.94 L155.58,178.29 L156.29,177.64 L156.99,176.97 L157.70,176.29 L158.40,175.61 L159.10,174.91 L159.81,174.21 L160.51,173.50 L161.22,172.79 L161.92,172.06 L162.62,171.33 L163.33,170.60 L164.03,169.86 L164.73,169.12 L165.44,168.37 L166.14,167.62 L166.85,166.87 L167.55,166.11 L168.25,165.35 L168.96,164.60 L169.66,163.84 L170.37,163.08 L171.07,162.32 L171.77,161.56 L172.48,160.80 L173.18,160.05 L173.89,159.29 L174.59,158.54 L175.29,157.79 L176.00,157.05 L176.70,156.30 L177.41,155.57 L178.11,154.83 L178.81,154.11 L179.52,153.38 L180.22,152.67 L180.93,151.95 L181.63,151.25 L182.33,150.55 L183.04,149.86 L183.74,149.18 L184.44,148.50 L185.15,147.83 L185.85,147.17 L186.56,146.51 L187.26,145.87 L187.96,145.23 L188.67,144.61 L189.37,143.99 L190.08,143.38 L190.78,142.78 L191.48,142.19 L192.19,141.61 L192.89,141.04 L193.60,140.48 L194.30,139.93 L195.00,139.39 L195.71,138.86 L196.41,138.34 L197.12,137.83 L197.82,137.33 L198.52,136.84 L199.23,136.36 L199.93,135.89 L200.64,135.44 L201.34,134.99 L202.04,134.56 L202.75,134.13 L203.45,133.72 L204.15,133.32 L204.86,132.92 L205.56,132.54 L206.27,132.17 L206.97,131.81 L207.67,131.46 L208.38,131.12 L209.08,130.79 L209.79,130.47 L210.49,130.17 L211.19,129.87 L211.90,129.58 L212.60,129.30 L213.31,129.04 L214.01,128.78 L214.71,128.53 L215.42,128.29 L216.12,128.06 L216.83,127.85 L217.53,127.64 L218.23,127.44 L218.94,127.24 L219.64,127.06 L220.35,126.89 L221.05,126.73 L221.75,126.57 L222.46,126.42 L223.16,126.29 L223.87,126.16 L224.57,126.04 L225.27,125.92 L225.98,125.82 L226.68,125.72 L227.38,125.63 L228.09,125.55 L228.79,125.48 L229.50,125.41 L230.20,125.35 L230.90,125.30 L231.61,125.25 L232.31,125.21 L233.02,125.18 L233.72,125.15 L234.42,125.13 L235.13,125.12 L235.83,125.12 L236.54,125.11 L237.24,125.12 L237.94,125.13 L238.65,125.15 L239.35,125.17 L240.06,125.20 L240.76,125.23 L241.46,125.27 L242.17,125.31 L242.87,125.36 L243.58,125.41 L244.28,125.47 L244.98,125.53 L245.69,125.60 L246.39,125.67 L247.09,125.75 L247.80,125.83 L248.50,125.91 L249.21,126.00 L249.91,126.09 L250.61,126.18 L251.32,126.28 L252.02,126.38 L252.73,126.49 L253.43,126.60 L254.13,126.71 L254.84,126.82 L255.54,126.94 L256.25,127.06 L256.95,127.18 L257.65,127.31 L258.36,127.44 L259.06,127.57 L259.77,127.70 L260.47,127.84 L261.17,127.97 L261.88,128.11 L262.58,128.26 L263.29,128.40 L263.99,128.55 L264.69,128.69 L265.40,128.84 L266.10,128.99 L266.81,129.15 L267.51,129.30 L268.21,129.46 L268.92,129.61 L269.62,129.77 L270.32,129.93 L271.03,130.09 L271.73,130.26 L272.44,130.42 L273.14,130.58 L273.84,130.75 L274.55,130.92 L275.25,131.08 L275.96,131.25 L276.66,131.42 L277.36,131.59 L278.07,131.76 L278.77,131.93 L279.48,132.10 L280.18,132.28 L280.88,132.45 L281.59,132.62 L282.29,132.79 L283.00,132.97 L283.70,133.14 L284.40,133.32 L285.11,133.49 L285.81,133.67 L286.52,133.84 L287.22,134.02 L287.92,134.19 L288.63,134.37 L289.33,134.54 L290.03,134.72 L290.74,134.89 L291.44,135.07 L292.15,135.25 L292.85,135.42 L293.55,135.60 L294.26,135.77 L294.96,135.95 L295.67,136.12 L296.37,136.29 L297.07,136.47 L297.78,136.64 L298.48,136.82 L299.19,136.99 L299.89,137.16 L300.59,137.34 L301.30,137.51 L302.00,137.68 L302.71,137.85 L303.41,138.02 L304.11,138.19 L304.82,138.36 L305.52,138.53 L306.23,138.70 L306.93,138.87 L307.63,139.04 L308.34,139.21 L309.04,139.38 L309.74,139.54 L310.45,139.71 L311.15,139.88 L311.86,140.04 L312.56,140.21 L313.26,140.37 L313.97,140.53 L314.67,140.70 L315.38,140.86 L316.08,141.02 L316.78,141.18 L317.49,141.34 L318.19,141.50 L318.90,141.66 L319.60,141.82" fill="none" stroke="#0000ff" stroke-width="1.45" stroke-linejoin="round" stroke-dasharray="3.6,1.28" stroke-dashoffset="0.00"/></g>
<path d="M105.05,199.6 V75.55 H323.5" fill="none" stroke="#a0a0a0" stroke-width="1"/>
<path d="M104.55,199.6 H323.5" fill="none" stroke="#b8b8b8" stroke-width="1"/>
<path d="M105.05,193.60 h2.4 M105.05,188.03 h1.4 M105.05,182.45 h1.4 M105.05,176.88 h1.4 M105.05,171.30 h2.4 M105.05,165.72 h1.4 M105.05,160.15 h1.4 M105.05,154.57 h1.4 M105.05,149.00 h2.4 M105.05,143.42 h1.4 M105.05,137.85 h1.4 M105.05,132.27 h1.4 M105.05,126.70 h2.4 M105.05,121.12 h1.4 M105.05,115.55 h1.4 M105.05,109.97 h1.4 M105.05,104.40 h2.4 M105.05,98.82 h1.4 M105.05,93.25 h1.4 M105.05,87.67 h1.4 M105.05,82.10 h2.4 M105.05,76.52 h1.4" fill="none" stroke="#707070" stroke-width="0.8"/>
<path d="M109.50,199.6 v-2.3 M119.50,199.6 v-1.25 M130.50,199.6 v-1.25 M140.50,199.6 v-1.25 M151.50,199.6 v-2.3 M161.50,199.6 v-1.25 M172.50,199.6 v-1.25 M182.50,199.6 v-1.25 M193.50,199.6 v-2.3 M203.50,199.6 v-1.25 M214.50,199.6 v-1.25 M224.50,199.6 v-1.25 M235.50,199.6 v-2.3 M245.50,199.6 v-1.25 M256.50,199.6 v-1.25 M266.50,199.6 v-1.25 M277.50,199.6 v-2.3 M287.50,199.6 v-1.25 M298.50,199.6 v-1.25 M308.50,199.6 v-1.25 M319.50,199.6 v-2.3" fill="none" stroke="#707070" stroke-width="1"/>
<path d="M109.50,75.55 v2.9 M142.50,75.55 v2.9 M174.50,75.55 v2.9 M207.50,75.55 v2.9 M240.50,75.55 v2.9 M273.50,75.55 v2.9 M306.50,75.55 v2.9" fill="none" stroke="#a6a6a6" stroke-width="1"/>
<text x="109.30" y="215.2" text-anchor="middle">0.00</text>
<text x="151.36" y="215.2" text-anchor="middle">0.02</text>
<text x="193.42" y="215.2" text-anchor="middle">0.04</text>
<text x="235.48" y="215.2" text-anchor="middle">0.06</text>
<text x="277.54" y="215.2" text-anchor="middle">0.08</text>
<text x="319.60" y="215.2" text-anchor="middle">0.10</text>
<text x="109.30" y="70.4" text-anchor="middle">0.</text>
<text x="142.16" y="70.4" text-anchor="middle">6.</text>
<text x="175.02" y="70.4" text-anchor="middle">12.</text>
<text x="207.88" y="70.4" text-anchor="middle">18.</text>
<text x="240.74" y="70.4" text-anchor="middle">24.</text>
<text x="273.60" y="70.4" text-anchor="middle">30.</text>
<text x="306.46" y="70.4" text-anchor="middle">36.</text>
<text x="102.35" y="198.15" text-anchor="end">0.0</text>
<text x="102.35" y="175.85" text-anchor="end">0.2</text>
<text x="102.35" y="153.55" text-anchor="end">0.4</text>
<text x="102.35" y="131.25" text-anchor="end">0.6</text>
<text x="102.35" y="108.95" text-anchor="end">0.8</text>
<text x="102.35" y="86.65" text-anchor="end">1.0</text>
<text x="214.45" y="49.9" text-anchor="middle"><tspan font-style="italic">N</tspan><tspan font-size="9.0" dx="-0.20" dy="2.3" stroke="#000" stroke-width="0.12">in</tspan><tspan dx="0.80" dy="-2.3" font-style="italic">p</tspan></text>
<text x="214.95" y="235.2" text-anchor="middle" font-style="italic">p</text>
<text transform="translate(77.20,136.9) rotate(-90)" text-anchor="middle" font-style="italic">Y</text>
<rect x="263.5" y="74.7" width="59.5" height="41.7" fill="#fff" stroke="#7a7a7a" stroke-width="1"/>
<text x="293.25" y="90.6" text-anchor="middle"><tspan font-style="italic">N</tspan><tspan font-size="9.0" dx="-0.24" dy="2.3" stroke="#000" stroke-width="0.12">out</tspan><tspan dx="0.24" dy="-2.3"> = 6</tspan></text>
<text x="293.25" y="110.7" text-anchor="middle"><tspan font-style="italic">N</tspan><tspan font-size="9.0" dx="0.16" dy="2.3" stroke="#000" stroke-width="0.12">in</tspan><tspan dx="-0.16" dy="-2.3"> = 384</tspan></text>
<clipPath id="c267"><rect x="372.75" y="75.55" width="218.95000000000005" height="124.05"/></clipPath>
<g clip-path="url(#c267)"><path d="M384.16,193.57 L384.42,193.57 L384.69,193.56 L384.95,193.55 L385.22,193.55 L385.48,193.54 L385.75,193.53 L386.01,193.52 L386.27,193.51 L386.54,193.50 L386.80,193.49 L387.07,193.48 L387.33,193.46 L387.60,193.45 L387.86,193.43 L388.13,193.41 L388.39,193.39 L388.65,193.37 L388.92,193.35 L389.18,193.33 L389.45,193.31 L389.71,193.28 L389.98,193.25 L390.24,193.23 L390.51,193.20 L390.77,193.16 L391.03,193.13 L391.30,193.10 L391.56,193.06 L391.83,193.02 L392.09,192.98 L392.36,192.94 L392.62,192.90 L392.88,192.86 L393.15,192.81 L393.41,192.76 L393.68,192.71 L393.94,192.66 L394.21,192.60 L394.47,192.55 L394.74,192.49 L395.00,192.43 L395.26,192.37 L395.53,192.31 L395.79,192.24 L396.06,192.17 L396.32,192.11 L396.59,192.04 L396.85,191.96 L397.12,191.89 L397.38,191.81 L397.64,191.73 L397.91,191.65 L398.17,191.57 L398.44,191.48 L398.70,191.40 L398.97,191.31 L399.23,191.22 L399.49,191.13 L399.76,191.04 L400.02,190.94 L400.29,190.84 L400.55,190.74 L400.82,190.64 L401.08,190.54 L401.35,190.44 L401.61,190.33 L401.87,190.22 L402.14,190.11 L402.40,190.00 L402.67,189.89 L402.93,189.77 L403.20,189.66 L403.46,189.54 L403.73,189.42 L403.99,189.30 L404.25,189.18 L404.52,189.05 L404.78,188.93 L405.05,188.80 L405.31,188.67 L405.58,188.55 L405.84,188.41 L406.10,188.28 L406.37,188.15 L406.63,188.02 L406.90,187.88 L407.16,187.74 L407.43,187.61 L407.69,187.47 L407.96,187.33 L408.22,187.19 L408.48,187.04 L408.75,186.90 L409.01,186.76 L409.28,186.61 L409.54,186.47 L409.81,186.32 L410.07,186.17 L410.33,186.02 L410.60,185.87 L410.86,185.72 L411.13,185.57 L411.39,185.42 L411.66,185.27 L411.92,185.12 L412.19,184.97 L412.45,184.81 L412.71,184.66 L412.98,184.50 L413.24,184.35 L413.51,184.19 L413.77,184.04 L414.04,183.88 L414.30,183.73 L414.57,183.57 L414.83,183.41 L415.09,183.26 L415.36,183.10 L415.62,182.94 L415.89,182.78 L416.15,182.63 L416.42,182.47 L416.68,182.31 L416.94,182.15 L417.21,181.99 L417.47,181.84 L417.74,181.68 L418.00,181.52 L418.27,181.36 L418.53,181.21 L418.80,181.05 L419.06,180.89 L419.76,180.48 L420.47,180.06 L421.17,179.65 L421.88,179.24 L422.58,178.83 L423.28,178.43 L423.99,178.03 L424.69,177.63 L425.40,177.24 L426.10,176.86 L426.80,176.48 L427.51,176.10 L428.21,175.73 L428.92,175.37 L429.62,175.01 L430.32,174.66 L431.03,174.31 L431.73,173.98 L432.43,173.64 L433.14,173.32 L433.84,173.00 L434.55,172.69 L435.25,172.38 L435.95,172.09 L436.66,171.80 L437.36,171.52 L438.07,171.24 L438.77,170.97 L439.47,170.71 L440.18,170.46 L440.88,170.21 L441.59,169.97 L442.29,169.74 L442.99,169.52 L443.70,169.30 L444.40,169.09 L445.11,168.89 L445.81,168.69 L446.51,168.51 L447.22,168.32 L447.92,168.15 L448.63,167.98 L449.33,167.82 L450.03,167.67 L450.74,167.52 L451.44,167.38 L452.14,167.24 L452.85,167.11 L453.55,166.99 L454.26,166.87 L454.96,166.76 L455.66,166.65 L456.37,166.55 L457.07,166.46 L457.78,166.37 L458.48,166.29 L459.18,166.21 L459.89,166.14 L460.59,166.07 L461.30,166.01 L462.00,165.95 L462.70,165.90 L463.41,165.85 L464.11,165.80 L464.82,165.76 L465.52,165.73 L466.22,165.70 L466.93,165.67 L467.63,165.65 L468.34,165.63 L469.04,165.61 L469.74,165.60 L470.45,165.59 L471.15,165.59 L471.85,165.59 L472.56,165.59 L473.26,165.60 L473.97,165.60 L474.67,165.62 L475.37,165.63 L476.08,165.65 L476.78,165.67 L477.49,165.69 L478.19,165.71 L478.89,165.74 L479.60,165.77 L480.30,165.81 L481.01,165.84 L481.71,165.88 L482.41,165.92 L483.12,165.96 L483.82,166.00 L484.53,166.05 L485.23,166.09 L485.93,166.14 L486.64,166.19 L487.34,166.24 L488.05,166.30 L488.75,166.35 L489.45,166.41 L490.16,166.47 L490.86,166.53 L491.57,166.59 L492.27,166.65 L492.97,166.71 L493.68,166.77 L494.38,166.84 L495.08,166.91 L495.79,166.97 L496.49,167.04 L497.20,167.11 L497.90,167.18 L498.60,167.25 L499.31,167.32 L500.01,167.40 L500.72,167.47 L501.42,167.54 L502.12,167.62 L502.83,167.69 L503.53,167.77 L504.24,167.84 L504.94,167.92 L505.64,168.00 L506.35,168.08 L507.05,168.15 L507.76,168.23 L508.46,168.31 L509.16,168.39 L509.87,168.47 L510.57,168.55 L511.28,168.63 L511.98,168.71 L512.68,168.79 L513.39,168.87 L514.09,168.95 L514.79,169.03 L515.50,169.11 L516.20,169.19 L516.91,169.27 L517.61,169.35 L518.31,169.43 L519.02,169.52 L519.72,169.60 L520.43,169.68 L521.13,169.76 L521.83,169.84 L522.54,169.92 L523.24,170.00 L523.95,170.08 L524.65,170.16 L525.35,170.24 L526.06,170.32 L526.76,170.41 L527.47,170.49 L528.17,170.57 L528.87,170.65 L529.58,170.73 L530.28,170.81 L530.99,170.88 L531.69,170.96 L532.39,171.04 L533.10,171.12 L533.80,171.20 L534.51,171.28 L535.21,171.36 L535.91,171.44 L536.62,171.51 L537.32,171.59 L538.02,171.67 L538.73,171.75 L539.43,171.82 L540.14,171.90 L540.84,171.97 L541.54,172.05 L542.25,172.13 L542.95,172.20 L543.66,172.28 L544.36,172.35 L545.06,172.43 L545.77,172.50 L546.47,172.57 L547.18,172.65 L547.88,172.72 L548.58,172.79 L549.29,172.87 L549.99,172.94 L550.70,173.01 L551.40,173.08 L552.10,173.15 L552.81,173.22 L553.51,173.29 L554.22,173.37 L554.92,173.44 L555.62,173.50 L556.33,173.57 L557.03,173.64 L557.73,173.71 L558.44,173.78 L559.14,173.85 L559.85,173.92 L560.55,173.98 L561.25,174.05 L561.96,174.12 L562.66,174.18 L563.37,174.25 L564.07,174.32 L564.77,174.38 L565.48,174.45 L566.18,174.51 L566.89,174.57 L567.59,174.64 L568.29,174.70 L569.00,174.77 L569.70,174.83 L570.41,174.89 L571.11,174.95 L571.81,175.02 L572.52,175.08 L573.22,175.14 L573.93,175.20 L574.63,175.26 L575.33,175.32 L576.04,175.38 L576.74,175.44 L577.44,175.50 L578.15,175.56 L578.85,175.62 L579.56,175.68 L580.26,175.74 L580.96,175.79 L581.67,175.85 L582.37,175.91 L583.08,175.97 L583.78,176.02 L584.48,176.08 L585.19,176.13 L585.89,176.19 L586.60,176.25 L587.30,176.30" fill="none" stroke="#000000" stroke-width="1.45" stroke-linejoin="round"/><path d="M383.37,192.88 L383.63,192.75 L383.90,192.61 L384.16,192.45 L384.42,192.28 L384.69,192.09 L384.95,191.88 L385.22,191.65 L385.48,191.41 L385.75,191.14 L386.01,190.86 L386.27,190.56 L386.54,190.23 L386.80,189.89 L387.07,189.52 L387.33,189.14 L387.60,188.73 L387.86,188.31 L388.13,187.86 L388.39,187.39 L388.65,186.90 L388.92,186.40 L389.18,185.87 L389.45,185.32 L389.71,184.76 L389.98,184.17 L390.24,183.57 L390.51,182.95 L390.77,182.31 L391.03,181.66 L391.30,180.98 L391.56,180.30 L391.83,179.60 L392.09,178.88 L392.36,178.15 L392.62,177.41 L392.88,176.65 L393.15,175.89 L393.41,175.11 L393.68,174.32 L393.94,173.53 L394.21,172.72 L394.47,171.91 L394.74,171.09 L395.00,170.26 L395.26,169.43 L395.53,168.60 L395.79,167.75 L396.06,166.91 L396.32,166.06 L396.59,165.22 L396.85,164.37 L397.12,163.52 L397.38,162.67 L397.64,161.82 L397.91,160.97 L398.17,160.13 L398.44,159.29 L398.70,158.45 L398.97,157.61 L399.23,156.78 L399.49,155.96 L399.76,155.14 L400.02,154.33 L400.29,153.52 L400.55,152.72 L400.82,151.93 L401.08,151.15 L401.35,150.38 L401.61,149.61 L401.87,148.86 L402.14,148.11 L402.40,147.37 L402.67,146.65 L402.93,145.93 L403.20,145.23 L403.46,144.54 L403.73,143.86 L403.99,143.19 L404.25,142.53 L404.52,141.89 L404.78,141.26 L405.05,140.64 L405.31,140.03 L405.58,139.43 L405.84,138.85 L406.10,138.29 L406.37,137.73 L406.63,137.19 L406.90,136.66 L407.16,136.15 L407.43,135.64 L407.69,135.15 L407.96,134.68 L408.22,134.22 L408.48,133.77 L408.75,133.34 L409.01,132.91 L409.28,132.50 L409.54,132.11 L409.81,131.73 L410.07,131.36 L410.33,131.00 L410.60,130.66 L410.86,130.33 L411.13,130.01 L411.39,129.70 L411.66,129.41 L411.92,129.13 L412.19,128.86 L412.45,128.61 L412.71,128.36 L412.98,128.13 L413.24,127.91 L413.51,127.70 L413.77,127.50 L414.04,127.31 L414.30,127.13 L414.57,126.97 L414.83,126.81 L415.09,126.67 L415.36,126.53 L415.62,126.41 L415.89,126.29 L416.15,126.19 L416.42,126.09 L416.68,126.00 L416.94,125.93 L417.21,125.86 L417.47,125.80 L417.74,125.75 L418.00,125.71 L418.27,125.67 L418.53,125.65 L418.80,125.63 L419.06,125.62 L419.76,125.62 L420.47,125.68 L421.17,125.78 L421.88,125.93 L422.58,126.12 L423.28,126.34 L423.99,126.60 L424.69,126.89 L425.40,127.21 L426.10,127.56 L426.80,127.93 L427.51,128.32 L428.21,128.73 L428.92,129.15 L429.62,129.60 L430.32,130.05 L431.03,130.52 L431.73,131.00 L432.43,131.49 L433.14,131.98 L433.84,132.48 L434.55,132.99 L435.25,133.50 L435.95,134.01 L436.66,134.52 L437.36,135.03 L438.07,135.55 L438.77,136.06 L439.47,136.58 L440.18,137.09 L440.88,137.60 L441.59,138.10 L442.29,138.60 L442.99,139.10 L443.70,139.60 L444.40,140.09 L445.11,140.57 L445.81,141.05 L446.51,141.53 L447.22,142.00 L447.92,142.46 L448.63,142.92 L449.33,143.38 L450.03,143.83 L450.74,144.27 L451.44,144.70 L452.14,145.14 L452.85,145.56 L453.55,145.98 L454.26,146.39 L454.96,146.80 L455.66,147.20 L456.37,147.60 L457.07,147.99 L457.78,148.37 L458.48,148.75 L459.18,149.13 L459.89,149.50 L460.59,149.86 L461.30,150.22 L462.00,150.57 L462.70,150.91 L463.41,151.26 L464.11,151.59 L464.82,151.93 L465.52,152.25 L466.22,152.58 L466.93,152.89 L467.63,153.21 L468.34,153.51 L469.04,153.82 L469.74,154.12 L470.45,154.41 L471.15,154.70 L471.85,154.99 L472.56,155.27 L473.26,155.55 L473.97,155.83 L474.67,156.10 L475.37,156.37 L476.08,156.63 L476.78,156.89 L477.49,157.15 L478.19,157.40 L478.89,157.65 L479.60,157.89 L480.30,158.14 L481.01,158.38 L481.71,158.61 L482.41,158.85 L483.12,159.08 L483.82,159.30 L484.53,159.53 L485.23,159.75 L485.93,159.97 L486.64,160.18 L487.34,160.40 L488.05,160.61 L488.75,160.82 L489.45,161.02 L490.16,161.22 L490.86,161.42 L491.57,161.62 L492.27,161.82 L492.97,162.01 L493.68,162.20 L494.38,162.39 L495.08,162.57 L495.79,162.76 L496.49,162.94 L497.20,163.12 L497.90,163.30 L498.60,163.47 L499.31,163.64 L500.01,163.82 L500.72,163.99 L501.42,164.15 L502.12,164.32 L502.83,164.48 L503.53,164.64 L504.24,164.80 L504.94,164.96 L505.64,165.12 L506.35,165.27 L507.05,165.43 L507.76,165.58 L508.46,165.73 L509.16,165.88 L509.87,166.03 L510.57,166.17 L511.28,166.31 L511.98,166.46 L512.68,166.60 L513.39,166.74 L514.09,166.87 L514.79,167.01 L515.50,167.15 L516.20,167.28 L516.91,167.41 L517.61,167.54 L518.31,167.67 L519.02,167.80 L519.72,167.93 L520.43,168.06 L521.13,168.18 L521.83,168.30 L522.54,168.43 L523.24,168.55 L523.95,168.67 L524.65,168.79 L525.35,168.90 L526.06,169.02 L526.76,169.14 L527.47,169.25 L528.17,169.36 L528.87,169.48 L529.58,169.59 L530.28,169.70 L530.99,169.81 L531.69,169.91 L532.39,170.02 L533.10,170.13 L533.80,170.23 L534.51,170.34 L535.21,170.44 L535.91,170.54 L536.62,170.65 L537.32,170.75 L538.02,170.85 L538.73,170.95 L539.43,171.04 L540.14,171.14 L540.84,171.24 L541.54,171.33 L542.25,171.43 L542.95,171.52 L543.66,171.62 L544.36,171.71 L545.06,171.80 L545.77,171.89 L546.47,171.98 L547.18,172.07 L547.88,172.16 L548.58,172.25 L549.29,172.33 L549.99,172.42 L550.70,172.51 L551.40,172.59 L552.10,172.68 L552.81,172.76 L553.51,172.84 L554.22,172.93 L554.92,173.01 L555.62,173.09 L556.33,173.17 L557.03,173.25 L557.73,173.33 L558.44,173.41 L559.14,173.48 L559.85,173.56 L560.55,173.64 L561.25,173.72 L561.96,173.79 L562.66,173.87 L563.37,173.94 L564.07,174.01 L564.77,174.09 L565.48,174.16 L566.18,174.23 L566.89,174.31 L567.59,174.38 L568.29,174.45 L569.00,174.52 L569.70,174.59 L570.41,174.66 L571.11,174.72 L571.81,174.79 L572.52,174.86 L573.22,174.93 L573.93,174.99 L574.63,175.06 L575.33,175.13 L576.04,175.19 L576.74,175.26 L577.44,175.32 L578.15,175.39 L578.85,175.45 L579.56,175.51 L580.26,175.57 L580.96,175.64 L581.67,175.70 L582.37,175.76 L583.08,175.82 L583.78,175.88 L584.48,175.94 L585.19,176.00 L585.89,176.06 L586.60,176.12 L587.30,176.18" fill="none" stroke="#ff0000" stroke-width="1.45" stroke-linejoin="round"/><path d="M385.48,192.50 L385.75,192.37 L386.01,192.23 L386.27,192.08 L386.54,191.92 L386.80,191.74 L387.07,191.56 L387.33,191.37 L387.60,191.17 L387.86,190.95 L388.13,190.73 L388.39,190.50 L388.65,190.25 L388.92,190.00 L389.18,189.73 L389.45,189.46 L389.71,189.18 L389.98,188.89 L390.24,188.58 L390.51,188.27 L390.77,187.95 L391.03,187.63 L391.30,187.29 L391.56,186.95 L391.83,186.60 L392.09,186.24 L392.36,185.87 L392.62,185.50 L392.88,185.12 L393.15,184.74 L393.41,184.35 L393.68,183.95 L393.94,183.55 L394.21,183.15 L394.47,182.74 L394.74,182.33 L395.00,181.92 L395.26,181.50 L395.53,181.08 L395.79,180.66 L396.06,180.23 L396.32,179.81 L396.59,179.38 L396.85,178.95 L397.12,178.52 L397.38,178.09 L397.64,177.66 L397.91,177.24 L398.17,176.81 L398.44,176.38 L398.70,175.96 L398.97,175.53 L399.23,175.11 L399.49,174.69 L399.76,174.28 L400.02,173.86 L400.29,173.45 L400.55,173.04 L400.82,172.64 L401.08,172.23 L401.35,171.83 L401.61,171.44 L401.87,171.05 L402.14,170.66 L402.40,170.28 L402.67,169.90 L402.93,169.53 L403.20,169.16 L403.46,168.80 L403.73,168.44 L403.99,168.08 L404.25,167.73 L404.52,167.39 L404.78,167.05 L405.05,166.72 L405.31,166.39 L405.58,166.06 L405.84,165.74 L406.10,165.43 L406.37,165.12 L406.63,164.82 L406.90,164.52 L407.16,164.23 L407.43,163.95 L407.69,163.67 L407.96,163.39 L408.22,163.12 L408.48,162.85 L408.75,162.59 L409.01,162.34 L409.28,162.09 L409.54,161.84 L409.81,161.60 L410.07,161.37 L410.33,161.14 L410.60,160.91 L410.86,160.69 L411.13,160.47 L411.39,160.26 L411.66,160.06 L411.92,159.85 L412.19,159.66 L412.45,159.46 L412.71,159.27 L412.98,159.09 L413.24,158.90 L413.51,158.73 L413.77,158.55 L414.04,158.38 L414.30,158.22 L414.57,158.05 L414.83,157.90 L415.09,157.74 L415.36,157.59 L415.62,157.44 L415.89,157.29 L416.15,157.15 L416.42,157.01 L416.68,156.88 L416.94,156.74 L417.21,156.61 L417.47,156.48 L417.74,156.36 L418.00,156.24 L418.27,156.12 L418.53,156.00 L418.80,155.88 L419.06,155.77 L419.76,155.48 L420.47,155.21 L421.17,154.95 L421.88,154.70 L422.58,154.46 L423.28,154.24 L423.99,154.03 L424.69,153.82 L425.40,153.63 L426.10,153.44 L426.80,153.26 L427.51,153.09 L428.21,152.93 L428.92,152.77 L429.62,152.63 L430.32,152.49 L431.03,152.35 L431.73,152.23 L432.43,152.11 L433.14,151.99 L433.84,151.89 L434.55,151.79 L435.25,151.70 L435.95,151.61 L436.66,151.54 L437.36,151.47 L438.07,151.41 L438.77,151.35 L439.47,151.31 L440.18,151.27 L440.88,151.24 L441.59,151.21 L442.29,151.20 L442.99,151.19 L443.70,151.19 L444.40,151.20 L445.11,151.22 L445.81,151.25 L446.51,151.28 L447.22,151.32 L447.92,151.37 L448.63,151.42 L449.33,151.49 L450.03,151.56 L450.74,151.63 L451.44,151.72 L452.14,151.81 L452.85,151.91 L453.55,152.01 L454.26,152.13 L454.96,152.24 L455.66,152.37 L456.37,152.50 L457.07,152.63 L457.78,152.77 L458.48,152.91 L459.18,153.06 L459.89,153.22 L460.59,153.38 L461.30,153.54 L462.00,153.71 L462.70,153.88 L463.41,154.05 L464.11,154.23 L464.82,154.41 L465.52,154.59 L466.22,154.77 L466.93,154.96 L467.63,155.15 L468.34,155.34 L469.04,155.54 L469.74,155.73 L470.45,155.93 L471.15,156.12 L471.85,156.32 L472.56,156.52 L473.26,156.72 L473.97,156.92 L474.67,157.12 L475.37,157.33 L476.08,157.53 L476.78,157.73 L477.49,157.93 L478.19,158.13 L478.89,158.33 L479.60,158.53 L480.30,158.73 L481.01,158.93 L481.71,159.13 L482.41,159.33 L483.12,159.53 L483.82,159.72 L484.53,159.92 L485.23,160.11 L485.93,160.30 L486.64,160.50 L487.34,160.69 L488.05,160.88 L488.75,161.07 L489.45,161.25 L490.16,161.44 L490.86,161.62 L491.57,161.81 L492.27,161.99 L492.97,162.17 L493.68,162.35 L494.38,162.52 L495.08,162.70 L495.79,162.87 L496.49,163.05 L497.20,163.22 L497.90,163.39 L498.60,163.56 L499.31,163.72 L500.01,163.89 L500.72,164.05 L501.42,164.22 L502.12,164.38 L502.83,164.54 L503.53,164.69 L504.24,164.85 L504.94,165.00 L505.64,165.16 L506.35,165.31 L507.05,165.46 L507.76,165.61 L508.46,165.76 L509.16,165.90 L509.87,166.05 L510.57,166.19 L511.28,166.33 L511.98,166.47 L512.68,166.61 L513.39,166.75 L514.09,166.89 L514.79,167.02 L515.50,167.16 L516.20,167.29 L516.91,167.42 L517.61,167.55 L518.31,167.68 L519.02,167.81 L519.72,167.94 L520.43,168.06 L521.13,168.19 L521.83,168.31 L522.54,168.43 L523.24,168.55 L523.95,168.67 L524.65,168.79 L525.35,168.91 L526.06,169.02 L526.76,169.14 L527.47,169.25 L528.17,169.37 L528.87,169.48 L529.58,169.59 L530.28,169.70 L530.99,169.81 L531.69,169.92" fill="none" stroke="#800080" stroke-width="1.45" stroke-linejoin="round"/><path d="M377.02,193.60 L377.29,193.60 L377.55,193.60 L377.81,193.60 L378.08,193.60 L378.34,193.60 L378.61,193.60 L378.87,193.60 L379.14,193.60 L379.40,193.60 L379.66,193.59 L379.93,193.59 L380.19,193.59 L380.46,193.58 L380.72,193.58 L380.99,193.57 L381.25,193.56 L381.52,193.54 L381.78,193.53 L382.04,193.51 L382.31,193.49 L382.57,193.46 L382.84,193.43 L383.10,193.40 L383.37,193.36 L383.63,193.32 L383.90,193.27 L384.16,193.22 L384.42,193.16 L384.69,193.10 L384.95,193.03 L385.22,192.95 L385.48,192.87 L385.75,192.78 L386.01,192.69 L386.27,192.59 L386.54,192.48 L386.80,192.36 L387.07,192.24 L387.33,192.11 L387.60,191.98 L387.86,191.84 L388.13,191.69 L388.39,191.53 L388.65,191.37 L388.92,191.20 L389.18,191.02 L389.45,190.84 L389.71,190.65 L389.98,190.46 L390.24,190.26 L390.51,190.05 L390.77,189.84 L391.03,189.62 L391.30,189.39 L391.56,189.16 L391.83,188.93 L392.09,188.69 L392.36,188.45 L392.62,188.20 L392.88,187.95 L393.15,187.69 L393.41,187.43 L393.68,187.17 L393.94,186.90 L394.21,186.63 L394.47,186.36 L394.74,186.09 L395.00,185.81 L395.26,185.53 L395.53,185.25 L395.79,184.97 L396.06,184.69 L396.32,184.40 L396.59,184.12 L396.85,183.83 L397.12,183.55 L397.38,183.26 L397.64,182.98 L397.91,182.69 L398.17,182.41 L398.44,182.12 L398.70,181.84 L398.97,181.56 L399.23,181.27 L399.49,181.00 L399.76,180.72 L400.02,180.44 L400.29,180.17 L400.55,179.89 L400.82,179.62 L401.08,179.36 L401.35,179.09 L401.61,178.83 L401.87,178.57 L402.14,178.31 L402.40,178.05 L402.67,177.80 L402.93,177.55 L403.20,177.31 L403.46,177.06 L403.73,176.82 L403.99,176.59 L404.25,176.36 L404.52,176.13 L404.78,175.90 L405.05,175.68 L405.31,175.46 L405.58,175.24 L405.84,175.03 L406.10,174.82 L406.37,174.62 L406.63,174.41 L406.90,174.22 L407.16,174.02 L407.43,173.83 L407.69,173.64 L407.96,173.46 L408.22,173.28 L408.48,173.10 L408.75,172.93 L409.01,172.76 L409.28,172.59 L409.54,172.43 L409.81,172.27 L410.07,172.11 L410.33,171.96 L410.60,171.81 L410.86,171.66 L411.13,171.51 L411.39,171.37 L411.66,171.23 L411.92,171.10 L412.19,170.97 L412.45,170.84 L412.71,170.71 L412.98,170.59 L413.24,170.46 L413.51,170.35 L413.77,170.23 L414.04,170.12 L414.30,170.00 L414.57,169.90 L414.83,169.79 L415.09,169.68 L415.36,169.58 L415.62,169.48 L415.89,169.38 L416.15,169.29 L416.42,169.19 L416.68,169.10 L416.94,169.01 L417.21,168.92 L417.47,168.84 L417.74,168.75 L418.00,168.67 L418.27,168.59 L418.53,168.51 L418.80,168.43 L419.06,168.35 L419.76,168.16 L420.47,167.97 L421.17,167.79 L421.88,167.62 L422.58,167.45 L423.28,167.29 L423.99,167.14 L424.69,166.99 L425.40,166.85 L426.10,166.71 L426.80,166.58 L427.51,166.45 L428.21,166.32 L428.92,166.20 L429.62,166.07 L430.32,165.96 L431.03,165.84 L431.73,165.73 L432.43,165.61 L433.14,165.51 L433.84,165.40 L434.55,165.29 L435.25,165.19 L435.95,165.09 L436.66,164.99 L437.36,164.89 L438.07,164.80 L438.77,164.70 L439.47,164.61 L440.18,164.52 L440.88,164.44 L441.59,164.35 L442.29,164.27 L442.99,164.18 L443.70,164.10 L444.40,164.03 L445.11,163.95 L445.81,163.88 L446.51,163.81 L447.22,163.74 L447.92,163.67 L448.63,163.60 L449.33,163.54 L450.03,163.48 L450.74,163.42 L451.44,163.37 L452.14,163.31 L452.85,163.26 L453.55,163.21 L454.26,163.16 L454.96,163.11 L455.66,163.07 L456.37,163.03 L457.07,162.99 L457.78,162.95 L458.48,162.92 L459.18,162.89 L459.89,162.86 L460.59,162.83 L461.30,162.80 L462.00,162.78 L462.70,162.76 L463.41,162.74 L464.11,162.73 L464.82,162.72 L465.52,162.71 L466.22,162.70 L466.93,162.69 L467.63,162.69 L468.34,162.69 L469.04,162.69 L469.74,162.70 L470.45,162.71 L471.15,162.72 L471.85,162.73 L472.56,162.75 L473.26,162.76 L473.97,162.79 L474.67,162.81 L475.37,162.84 L476.08,162.87 L476.78,162.90 L477.49,162.93 L478.19,162.97 L478.89,163.01 L479.60,163.05 L480.30,163.10 L481.01,163.15 L481.71,163.20 L482.41,163.25 L483.12,163.30 L483.82,163.36 L484.53,163.42 L485.23,163.48 L485.93,163.55 L486.64,163.62 L487.34,163.68 L488.05,163.76 L488.75,163.83 L489.45,163.90 L490.16,163.98 L490.86,164.06 L491.57,164.14 L492.27,164.23 L492.97,164.31 L493.68,164.40 L494.38,164.49 L495.08,164.57 L495.79,164.67 L496.49,164.76 L497.20,164.85 L497.90,164.95 L498.60,165.04 L499.31,165.14 L500.01,165.24 L500.72,165.34 L501.42,165.44 L502.12,165.54 L502.83,165.65 L503.53,165.75 L504.24,165.85 L504.94,165.96 L505.64,166.06 L506.35,166.17 L507.05,166.28 L507.76,166.39 L508.46,166.49 L509.16,166.60 L509.87,166.71 L510.57,166.82 L511.28,166.93 L511.98,167.04 L512.68,167.14 L513.39,167.25 L514.09,167.36 L514.79,167.47 L515.50,167.58 L516.20,167.69 L516.91,167.80 L517.61,167.91 L518.31,168.02 L519.02,168.13 L519.72,168.24 L520.43,168.34 L521.13,168.45 L521.83,168.56 L522.54,168.67 L523.24,168.77 L523.95,168.88 L524.65,168.99 L525.35,169.09 L526.06,169.20 L526.76,169.30 L527.47,169.41 L528.17,169.51 L528.87,169.61 L529.58,169.72 L530.28,169.82 L530.99,169.92 L531.69,170.02 L532.39,170.12 L533.10,170.22 L533.80,170.32 L534.51,170.42 L535.21,170.52 L535.91,170.62 L536.62,170.71 L537.32,170.81 L538.02,170.90 L538.73,171.00 L539.43,171.09 L540.14,171.19 L540.84,171.28 L541.54,171.37 L542.25,171.47 L542.95,171.56 L543.66,171.65 L544.36,171.74 L545.06,171.83 L545.77,171.92 L546.47,172.01 L547.18,172.09 L547.88,172.18 L548.58,172.27 L549.29,172.35 L549.99,172.44 L550.70,172.52 L551.40,172.61 L552.10,172.69 L552.81,172.77 L553.51,172.86 L554.22,172.94 L554.92,173.02 L555.62,173.10 L556.33,173.18 L557.03,173.26 L557.73,173.34 L558.44,173.41 L559.14,173.49 L559.85,173.57 L560.55,173.64 L561.25,173.72 L561.96,173.80 L562.66,173.87 L563.37,173.94 L564.07,174.02 L564.77,174.09 L565.48,174.16 L566.18,174.24 L566.89,174.31 L567.59,174.38 L568.29,174.45 L569.00,174.52 L569.70,174.59 L570.41,174.66 L571.11,174.73 L571.81,174.79 L572.52,174.86 L573.22,174.93 L573.93,175.00 L574.63,175.06 L575.33,175.13 L576.04,175.19 L576.74,175.26 L577.44,175.32 L578.15,175.39 L578.85,175.45 L579.56,175.51 L580.26,175.58 L580.96,175.64 L581.67,175.70 L582.37,175.76 L583.08,175.82 L583.78,175.88 L584.48,175.94 L585.19,176.00 L585.89,176.06 L586.60,176.12 L587.30,176.18" fill="none" stroke="#0000ff" stroke-width="1.45" stroke-linejoin="round"/></g>
<path d="M372.75,199.6 V75.55 H591.7" fill="none" stroke="#a0a0a0" stroke-width="1"/>
<path d="M372.25,199.6 H591.7" fill="none" stroke="#b8b8b8" stroke-width="1"/>
<path d="M372.75,193.60 h2.4 M372.75,188.03 h1.4 M372.75,182.45 h1.4 M372.75,176.88 h1.4 M372.75,171.30 h2.4 M372.75,165.72 h1.4 M372.75,160.15 h1.4 M372.75,154.57 h1.4 M372.75,149.00 h2.4 M372.75,143.42 h1.4 M372.75,137.85 h1.4 M372.75,132.27 h1.4 M372.75,126.70 h2.4 M372.75,121.12 h1.4 M372.75,115.55 h1.4 M372.75,109.97 h1.4 M372.75,104.40 h2.4 M372.75,98.82 h1.4 M372.75,93.25 h1.4 M372.75,87.67 h1.4 M372.75,82.10 h2.4 M372.75,76.52 h1.4" fill="none" stroke="#707070" stroke-width="0.8"/>
<path d="M377.50,199.6 v-2.3 M387.50,199.6 v-1.25 M398.50,199.6 v-1.25 M408.50,199.6 v-1.25 M419.50,199.6 v-2.3 M429.50,199.6 v-1.25 M440.50,199.6 v-1.25 M450.50,199.6 v-1.25 M461.50,199.6 v-2.3 M471.50,199.6 v-1.25 M482.50,199.6 v-1.25 M492.50,199.6 v-1.25 M503.50,199.6 v-2.3 M513.50,199.6 v-1.25 M524.50,199.6 v-1.25 M534.50,199.6 v-1.25 M545.50,199.6 v-2.3 M555.50,199.6 v-1.25 M566.50,199.6 v-1.25 M576.50,199.6 v-1.25 M587.50,199.6 v-2.3" fill="none" stroke="#707070" stroke-width="1"/>
<path d="M377.50,75.55 v2.9 M409.50,75.55 v2.9 M442.50,75.55 v2.9 M475.50,75.55 v2.9 M508.50,75.55 v2.9 M541.50,75.55 v2.9 M574.50,75.55 v2.9" fill="none" stroke="#a6a6a6" stroke-width="1"/>
<text x="377.00" y="215.2" text-anchor="middle">0.00</text>
<text x="419.06" y="215.2" text-anchor="middle">0.02</text>
<text x="461.12" y="215.2" text-anchor="middle">0.04</text>
<text x="503.18" y="215.2" text-anchor="middle">0.06</text>
<text x="545.24" y="215.2" text-anchor="middle">0.08</text>
<text x="587.30" y="215.2" text-anchor="middle">0.10</text>
<text x="377.00" y="70.4" text-anchor="middle">0.</text>
<text x="409.86" y="70.4" text-anchor="middle">6.</text>
<text x="442.72" y="70.4" text-anchor="middle">12.</text>
<text x="475.58" y="70.4" text-anchor="middle">18.</text>
<text x="508.44" y="70.4" text-anchor="middle">24.</text>
<text x="541.30" y="70.4" text-anchor="middle">30.</text>
<text x="574.16" y="70.4" text-anchor="middle">36.</text>
<text x="370.55" y="198.15" text-anchor="end">0.0</text>
<text x="370.55" y="175.85" text-anchor="end">0.2</text>
<text x="370.55" y="153.55" text-anchor="end">0.4</text>
<text x="370.55" y="131.25" text-anchor="end">0.6</text>
<text x="370.55" y="108.95" text-anchor="end">0.8</text>
<text x="370.55" y="86.65" text-anchor="end">1.0</text>
<text x="482.15" y="49.9" text-anchor="middle"><tspan font-style="italic">N</tspan><tspan font-size="9.0" dx="0.10" dy="2.3" stroke="#000" stroke-width="0.12">in</tspan><tspan dx="0.50" dy="-2.3" font-style="italic">p</tspan></text>
<text x="482.65" y="235.2" text-anchor="middle" font-style="italic">p</text>
<text transform="translate(344.90,137.9) rotate(-90)" text-anchor="middle" font-style="italic">Y<tspan dx="1.1">/</tspan><tspan dx="1.1">g</tspan></text>
<rect x="531.4" y="74.7" width="59.10000000000002" height="41.7" fill="#fff" stroke="#7a7a7a" stroke-width="1"/>
<text x="560.95" y="90.6" text-anchor="middle"><tspan font-style="italic">N</tspan><tspan font-size="9.0" dx="0.06" dy="2.3" stroke="#000" stroke-width="0.12">out</tspan><tspan dx="-0.06" dy="-2.3"> = 6</tspan></text>
<text x="560.95" y="110.7" text-anchor="middle"><tspan font-style="italic">N</tspan><tspan font-size="9.0" dx="0.46" dy="2.3" stroke="#000" stroke-width="0.12">in</tspan><tspan dx="-0.46" dy="-2.3"> = 384</tspan></text>
<path d="M4.1,257.2 H32.5" stroke="#000000" stroke-width="1.45" fill="none"/>
<text x="37.3" y="259.8">6x <tspan font-style="italic">N</tspan><tspan font-size="9.0" dx="-0.22" dy="2.3" stroke="#000" stroke-width="0.12">in</tspan><tspan dx="0.22" dy="-2.3">/6<tspan dy="0.5">−</tspan><tspan dy="-0.5">to</tspan><tspan dy="0.5">−</tspan><tspan dy="-0.5">1</tspan></tspan></text>
<path d="M123.0,257.2 H151.9" stroke="#ff0000" stroke-width="1.45" fill="none"/>
<text x="156.3" y="259.8">opt. 1 gen.</text>
<path d="M224.9,257.2 H254.0" stroke="#800080" stroke-width="1.45" fill="none"/>
<text x="258.7" y="259.8">opt. 2 gen.</text>
<path d="M326.9,257.2 H355.9" stroke="#0000ff" stroke-width="1.45" fill="none"/>
<text x="360.8" y="259.8">opt. 3 gen.</text>
<path d="M428.9,257.2 H456.6" stroke="#800080" stroke-width="1.45" fill="none" stroke-dasharray="3.6,1.28"/>
<text x="463.2" y="259.8">2x opt. 1 gen.</text>
<path d="M547.8,257.2 H575.4" stroke="#0000ff" stroke-width="1.45" fill="none" stroke-dasharray="3.6,1.28"/>
<text x="582.2" y="259.8">3x opt. 1 gen.</text>
</g></svg>
</body></html>
